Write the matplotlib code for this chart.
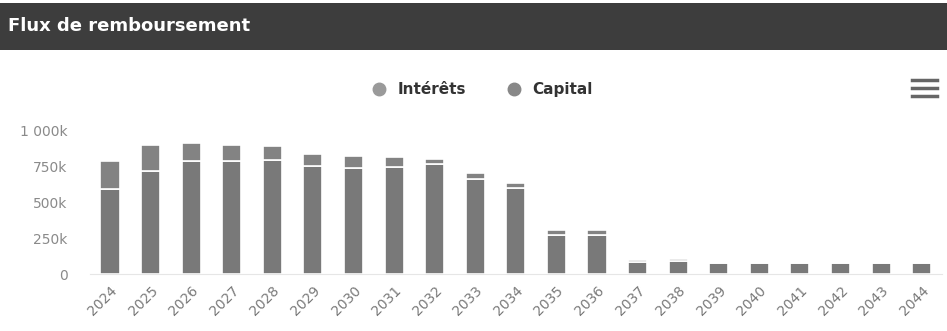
import matplotlib.pyplot as plt
from matplotlib.lines import Line2D
from matplotlib.patches import Rectangle

annees = [str(a) for a in range(2024, 2045)]
capital = [592, 719, 788, 788, 799, 752, 741, 745, 767, 663, 600, 275, 275,
           85, 90, 78, 78, 78, 78, 78, 78]
interets = [200, 184, 131, 117, 97, 85, 86, 71, 37, 40, 37, 30, 30,
            14, 16, 3, 3, 3, 3, 3, 3]
graduations = [0, 250, 500, 750, 1000]
etiquettes_y = ["0", "250k", "500k", "750k", "1 000k"]

W, H = 947, 331
fig = plt.figure(figsize=(W / 100, H / 100), dpi=100)
fig.patch.set_facecolor("white")

# bandeau du titre
fig.patches.append(Rectangle((0, 1 - 50 / H), 1, 47 / H, transform=fig.transFigure,
                             facecolor="#3d3d3d", edgecolor="none"))
fig.text(8 / W, 1 - 26 / H, "Flux de remboursement", color="white",
         fontsize=13, fontweight="bold", va="center", ha="left")

# axes
ax = fig.add_axes([89.7 / W, 57 / H, (942 - 89.7) / W, (274 - 131) / H])
x = range(len(annees))
ax.bar(x, capital, width=0.47, color="#797979", edgecolor="white", linewidth=1.2)
ax.bar(x, interets, bottom=capital, width=0.47, color="#838383",
       edgecolor="white", linewidth=1.2)

ax.set_xlim(-0.5, len(annees) - 0.5)
ax.set_ylim(0, 1000)
ax.set_yticks(graduations)
ax.set_yticklabels(etiquettes_y)
ax.set_xticks(list(x))
ax.set_xticklabels(annees, rotation=45, ha="right", rotation_mode="anchor")
ax.tick_params(axis="y", length=0, pad=16, labelsize=10, labelcolor="#8a8a8a")
ax.tick_params(axis="x", length=0, pad=7, labelsize=10, labelcolor="#7a7a7a")
for s in ["top", "right", "left"]:
    ax.spines[s].set_visible(False)
ax.spines["bottom"].set_color("#e6e6e6")
ax.set_axisbelow(True)

# légende
poignees = [
    Line2D([], [], marker="o", linestyle="none", markersize=9,
           markerfacecolor="#9a9a9a", markeredgecolor="#9a9a9a"),
    Line2D([], [], marker="o", linestyle="none", markersize=9,
           markerfacecolor="#888888", markeredgecolor="#888888"),
]
leg = fig.legend(poignees, ["Intérêts", "Capital"], loc="center",
                 bbox_to_anchor=(482 / W, 1 - 90 / H), ncol=2, frameon=False,
                 handletextpad=0.7, columnspacing=2.6, handlelength=1.0,
                 prop={"weight": "bold", "size": 11})
for t in leg.get_texts():
    t.set_color("#333333")

# menu
for yy in [80, 88, 96]:
    fig.lines.append(Line2D([912 / W, 937 / W], [1 - yy / H, 1 - yy / H],
                            transform=fig.transFigure, color="#666666", linewidth=2.5))

fig.savefig("out.png", dpi=100)
